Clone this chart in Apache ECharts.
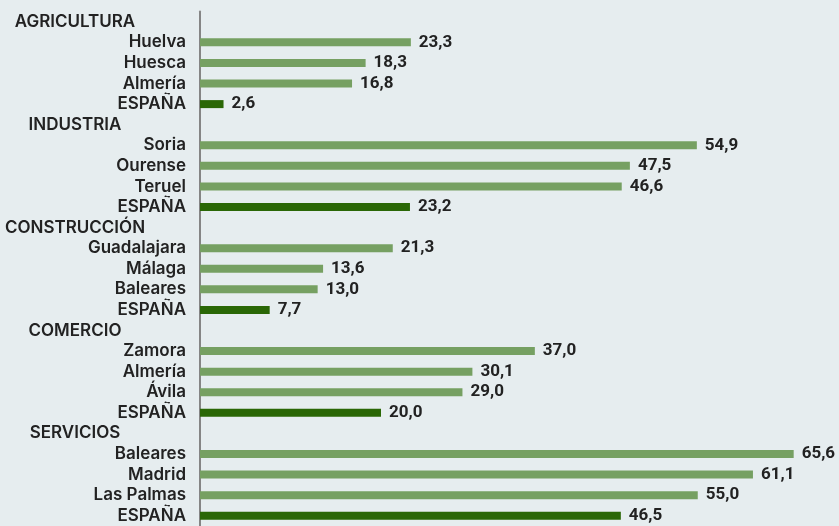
<!DOCTYPE html>
<html><head><meta charset="utf-8">
<script src="https://cdn.jsdelivr.net/npm/echarts@6/dist/echarts.min.js"></script>
<style>html,body{margin:0;padding:0;background:#e6edef;}#c{width:839px;height:526px;}</style>
</head><body><div id="c"></div>
<script>
const sectors = ['AGRICULTURA','INDUSTRIA','CONSTRUCCIÓN','COMERCIO','SERVICIOS'];
const provinceNames = [
  ['Huelva','Huesca','Almería'],
  ['Soria','Ourense','Teruel'],
  ['Guadalajara','Málaga','Baleares'],
  ['Zamora','Almería','Ávila'],
  ['Baleares','Madrid','Las Palmas']
];
const provinceValues = [
  [23.3,18.3,16.8],
  [54.9,47.5,46.6],
  [21.3,13.6,13.0],
  [37.0,30.1,29.0],
  [65.6,61.1,55.0]
];
const spainLabel = 'ESPAÑA';
const spainValues = [2.6,23.2,7.7,20.0,46.5];

const cats = [], data = [], headerIdx = new Set();
sectors.forEach((s,i)=>{
  headerIdx.add(cats.length);
  cats.push(s); data.push('-');
  provinceNames[i].forEach((p,j)=>{
    cats.push(p);
    data.push({value:provinceValues[i][j], itemStyle:{color:'#76a062'}});
  });
  cats.push(spainLabel);
  data.push({value:spainValues[i], itemStyle:{color:'#2a6706'}});
});

const chart = echarts.init(document.getElementById('c'));
chart.setOption({
  backgroundColor:'#e6edef',
  animation:false,
  grid:{left:200,right:5.5,top:11.5,bottom:-3,containLabel:false},
  xAxis:{type:'value',min:0,max:70,show:false},
  yAxis:{type:'category',data:cats,inverse:true,
    axisLine:{lineStyle:{color:'#858585',width:2}},
    axisTick:{show:false},
    axisLabel:{margin:14,
      formatter:(v,i)=> headerIdx.has(i) ? '{h|'+v+'}' : '{n|'+v+'}',
      rich:{
        n:{fontFamily:'Inter',fontSize:17,fontWeight:600,color:'#222'},
        h:{fontFamily:'Inter',fontSize:17,fontWeight:600,color:'#222',width:222,align:'center'}
      }
    }
  },
  series:[{type:'bar',data:data,barWidth:8,
    label:{show:true,position:'right',distance:8,fontFamily:'Roboto',fontSize:17,fontWeight:700,color:'#222',
      formatter:p=>p.value.toFixed(1).replace('.',',')}
  }]
});
</script></body></html>
